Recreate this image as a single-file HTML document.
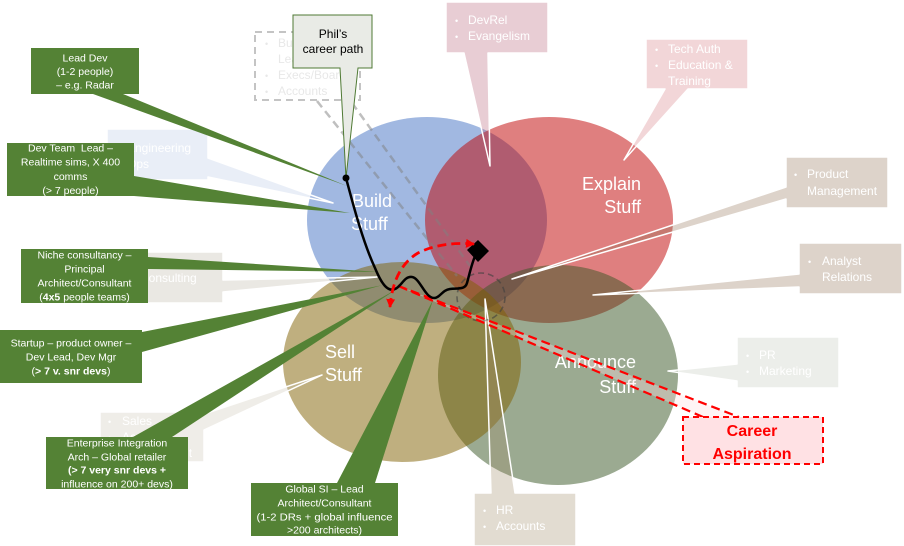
<!DOCTYPE html>
<html><head><meta charset="utf-8">
<style>
html,body{margin:0;padding:0;background:#fff;}
svg{display:block;}
text{font-family:"Liberation Sans",sans-serif;}
</style></head><body>
<svg width="904" height="546" viewBox="0 0 904 546" xmlns="http://www.w3.org/2000/svg">
<defs>
<marker id="ah" markerWidth="10" markerHeight="10" refX="8" refY="4.5" orient="auto-start-reverse" markerUnits="userSpaceOnUse">
<path d="M0,0 L9,4.5 L0,9 z" fill="#ff0000"/>
</marker>
</defs>
<rect width="904" height="546" fill="#fff"/>

<!-- circles -->
<ellipse cx="427" cy="220" rx="120" ry="103" fill="#4472c4" fill-opacity="0.5"/>
<ellipse cx="549" cy="220" rx="124" ry="103" fill="#c00000" fill-opacity="0.5"/>
<ellipse cx="558" cy="375" rx="120" ry="110" fill="#375623" fill-opacity="0.5"/>
<ellipse cx="402" cy="362" rx="119" ry="100" fill="#7f6000" fill-opacity="0.5"/>

<!-- circle labels -->
<g fill="#fff" font-size="18">
<text x="352" y="207">Build</text><text x="351" y="230">Stuff</text>
<text x="641" y="190" text-anchor="end">Explain</text><text x="641" y="213" text-anchor="end">Stuff</text>
<text x="325" y="358">Sell</text><text x="325" y="381">Stuff</text>
<text x="636" y="368" text-anchor="end">Announce</text><text x="636" y="393" text-anchor="end">Stuff</text>
</g>

<!-- light callouts (semi-transparent with white outline) -->
<g stroke="#fff" stroke-width="1.5" stroke-linejoin="round" fill-opacity="0.3">
<path d="M107,129 H208 V158 L333,203 L208,177 V180 H107 Z" fill="#b6c6e4"/>
<path d="M121,252 H223 V280 L377,277 L223,292 V303 H121 Z" fill="#b9b2a2"/>
<path d="M100,412 H204 V414 L322,375 L204,430 V462 H100 Z" fill="#cac3b2"/>
<path d="M446,2 H548 V53 H488 L490,166 L464,53 H446 Z" fill="#b25870"/>
<path d="M646,39 H748 V89 H688 L624,160 L665,89 H646 Z" fill="#d4767d"/>
<path d="M786,157 H888 V208 H786 V199 L512,279 L786,187 Z" fill="#8e6c4e"/>
<path d="M799,243 H902 V294 H799 V287 L593,295 L799,274 Z" fill="#8e6c4e"/>
<path d="M737,337 H839 V388 H737 V381 L668,371 L737,364 Z" fill="#c0c6b9"/>
<path d="M474,493 H491 L485,299 L515,493 H576 V546 H474 Z" fill="#9e8a66"/>
</g>

<g fill="#fff" font-size="12">
<text x="115" y="152" font-size="9">•</text><text x="127" y="152">Engineering</text>
<text x="115" y="168" font-size="9">•</text><text x="127" y="168">Ops</text>
<text x="128" y="282" font-size="9">•</text><text x="140" y="282">Consulting</text>
<text x="108" y="425" font-size="9">•</text><text x="122" y="425">Sales</text>
<text x="108" y="441" font-size="9">•</text><text x="122" y="441">Account</text>
<text x="122" y="457">Management</text>
<text x="455" y="24" font-size="9">•</text><text x="468" y="24">DevRel</text>
<text x="455" y="40" font-size="9">•</text><text x="468" y="40">Evangelism</text>
<text x="655" y="53" font-size="9">•</text><text x="668" y="53">Tech Auth</text>
<text x="655" y="69" font-size="9">•</text><text x="668" y="69">Education &amp;</text>
<text x="668" y="85">Training</text>
<text x="794" y="178" font-size="9">•</text><text x="807" y="178">Product</text>
<text x="807" y="195">Management</text>
<text x="808" y="265" font-size="9">•</text><text x="822" y="265">Analyst</text>
<text x="822" y="281">Relations</text>
<text x="746" y="359" font-size="9">•</text><text x="759" y="359">PR</text>
<text x="746" y="375" font-size="9">•</text><text x="759" y="375">Marketing</text>
<text x="483" y="514" font-size="9">•</text><text x="496" y="514">HR</text>
<text x="483" y="530" font-size="9">•</text><text x="496" y="530">Accounts</text>
</g>

<!-- business dashed box -->
<rect x="255" y="32" width="105" height="68" fill="#fff" stroke="#c4c4c4" stroke-width="2" stroke-dasharray="7,5"/>
<g fill="#e8e8e8" font-size="12">
<text x="265" y="47" font-size="9">•</text><text x="278" y="47">Business</text>
<text x="278" y="63">Leadership</text>
<text x="265" y="79" font-size="9">•</text><text x="278" y="79">Execs/Board</text>
<text x="265" y="95" font-size="9">•</text><text x="278" y="95">Accounts</text>
</g>
<g stroke="#808080" stroke-opacity="0.5" stroke-width="2.5" stroke-dasharray="8,5" fill="none">
<line x1="317" y1="101" x2="457" y2="276"/>
<line x1="352" y1="103" x2="470" y2="266"/>
</g>
<circle cx="481" cy="297" r="24" fill="none" stroke="#404040" stroke-opacity="0.6" stroke-width="1.6" stroke-dasharray="6,4"/>

<!-- green callouts -->
<g fill="#548235">
<polygon points="93,94 123,94 347,186"/>
<rect x="31" y="48" width="108" height="46"/>
<polygon points="134,176 134,196 350,213"/>
<rect x="7" y="143" width="127" height="53"/>
<polygon points="148,257 148,269 380,272"/>
<rect x="21" y="249" width="127" height="54"/>
<polygon points="142,332 142,352 383,285"/>
<rect x="0" y="330" width="142" height="53"/>
<polygon points="133,437 172,437 397,289"/>
<rect x="46" y="437" width="142" height="52"/>
<polygon points="337,483 375,483 433,300"/>
<rect x="251" y="483" width="147" height="53"/>
</g>
<g fill="#fff" font-size="10.5" text-anchor="middle">
<text x="85" y="61.5">Lead Dev</text>
<text x="85" y="75">(1-2 people)</text>
<text x="85" y="88.5">– e.g. Radar</text>
<text x="70.5" y="151.5" style="white-space:pre">Dev Team  Lead –</text>
<text x="70.5" y="165.5">Realtime sims, X 400</text>
<text x="70.5" y="180">comms</text>
<text x="70.5" y="194">(&gt; 7 people)</text>
<text x="84.5" y="258.5">Niche consultancy –</text>
<text x="84.5" y="272.5">Principal</text>
<text x="84.5" y="286.5">Architect/Consultant</text>
<text x="84.5" y="300.5">(<tspan font-weight="bold">4x5</tspan> people teams)</text>
<text x="71" y="346.5">Startup – product owner –</text>
<text x="71" y="360.5">Dev Lead, Dev Mgr</text>
<text x="71" y="374.5">(<tspan font-weight="bold">&gt; 7 v. snr devs</tspan>)</text>
<text x="117" y="446.5">Enterprise Integration</text>
<text x="117" y="460.5">Arch – Global retailer</text>
<text x="117" y="473.5" font-weight="bold">(&gt; 7 very snr devs +</text>
<text x="117" y="487.5">influence on 200+ devs)</text>
<text x="324.5" y="492.5">Global SI – Lead</text>
<text x="324.5" y="506.5">Architect/Consultant</text>
<text x="324.5" y="520.5" textLength="136" lengthAdjust="spacingAndGlyphs">(1-2 DRs + global influence</text>
<text x="324.5" y="533.5">&gt;200 architects)</text>
</g>

<!-- Phil's callout -->
<path d="M293,15 H372 V68 H358 L346,178 L340,68 H293 Z" fill="#e9ebe6" stroke="#4f7a34" stroke-width="1"/>
<g fill="#000" font-size="12" text-anchor="middle">
<text x="333" y="38">Phil’s</text>
<text x="333" y="53">career path</text>
</g>

<!-- career aspiration callout wedge -->
<path d="M703,417 L396,285 L739,417 Z" fill="#ffdfe3" fill-opacity="0.35" stroke="none"/>
<path d="M703,417 L396,285 L739,417" fill="none" stroke="#ff0000" stroke-width="2.2" stroke-dasharray="9,5"/>

<!-- black path -->
<path d="M346,178 C352,200 362,240 375,268 C382,285 388,292 395,289 C402,286 404,276 412,277 C420,278 425,298 434,298 C440,298 442,290 450,289 C458,288 465,290 467,283 C469,276 472,262 476,254" fill="none" stroke="#000" stroke-width="2.5"/>
<circle cx="346" cy="178" r="3.5" fill="#000"/>
<polygon points="478,240 489,251 478,262 467,250" fill="#000"/>

<!-- red curved arrow -->
<path d="M390,307 C392,282 401,263 418,253 C432,246 450,242 474,244" fill="none" stroke="#ff0000" stroke-width="2.8" stroke-dasharray="9,5" marker-start="url(#ah)" marker-end="url(#ah)"/>

<!-- career aspiration box -->
<rect x="683" y="417" width="140" height="47" fill="#ffe1e4" stroke="#ff0000" stroke-width="2" stroke-dasharray="6,4"/>
<g fill="#ff0000" font-size="16" font-weight="bold" text-anchor="middle">
<text x="752" y="436">Career</text>
<text x="752" y="459">Aspiration</text>
</g>
</svg>
</body></html>
